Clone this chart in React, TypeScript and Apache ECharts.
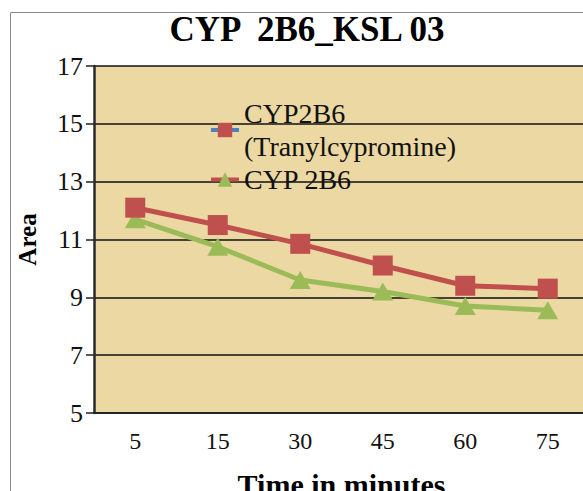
import React, { useEffect, useRef } from "react";
import * as echarts from "echarts";

const titleText = "CYP  2B6_KSL 03";
const categories = ["5", "15", "30", "45", "60", "75"];
const seriesNames = ["CYP2B6\n(Tranylcypromine)", "CYP 2B6"];
const tranylValues = [12.1, 11.5, 10.85, 10.1, 9.4, 9.3];
const cyp2b6Values = [11.7, 10.75, 9.6, 9.2, 8.7, 8.55];
const yMin = 5;
const yMax = 17;
const yStep = 2;

export default function App() {
  const ref = useRef<HTMLDivElement>(null);
  useEffect(() => {
    if (!ref.current) return;
    const chart = echarts.init(ref.current, null, { renderer: "svg" });
    const red = "#C0504D";
    const green = "#9BBB59";
    const blue = "#4F81BD";
    chart.setOption({
      animation: false,
      backgroundColor: "#ffffff",
      textStyle: { fontFamily: "Liberation Serif, Times New Roman, serif" },
      graphic: [
        {
          type: "rect",
          shape: { x: 10.5, y: 12.5, width: 700, height: 600 },
          style: { fill: "none", stroke: "#8a8a8a", lineWidth: 1 },
          silent: true,
          z: -1,
        },
      ],
      title: {
        text: titleText,
        left: 302,
        top: 7,
        textAlign: "center",
        textStyle: {
          fontFamily: "Liberation Serif, serif",
          fontSize: 35,
          fontWeight: "bold",
          color: "#000",
        },
      },
      legend: {
        orient: "vertical",
        left: 204,
        top: 92,
        itemGap: 0,
        itemWidth: 28,
        itemHeight: 18,
        textStyle: {
          fontFamily: "Liberation Serif, serif",
          fontSize: 28,
          lineHeight: 33,
          color: "#111",
        },
        data: [
          { name: seriesNames[0], lineStyle: { color: blue, width: 4 }, itemStyle: { color: red } },
          { name: seriesNames[1], lineStyle: { color: red, width: 4 }, itemStyle: { color: green } },
        ],
      },
      grid: {
        left: 94,
        top: 66,
        width: 495,
        height: 347,
        show: true,
        backgroundColor: "#ECD8A2",
        borderWidth: 0,
        containLabel: false,
        outerBoundsMode: "none",
      },
      xAxis: {
        type: "category",
        data: categories,
        boundaryGap: true,
        name: "Time in minutes",
        nameLocation: "middle",
        nameGap: 56,
        nameTextStyle: {
          fontFamily: "Liberation Serif, serif",
          fontSize: 30,
          fontWeight: "bold",
          color: "#000",
        },
        axisLine: { show: true, lineStyle: { color: "#222", width: 2 } },
        axisTick: { show: false },
        axisLabel: {
          margin: 16,
          fontFamily: "Liberation Serif, serif",
          fontSize: 24,
          color: "#111",
        },
        splitLine: { show: false },
      },
      yAxis: {
        type: "value",
        min: yMin,
        max: yMax,
        interval: yStep,
        name: "Area",
        nameLocation: "middle",
        nameGap: 54,
        nameRotate: 90,
        nameTextStyle: {
          fontFamily: "Liberation Serif, serif",
          fontSize: 25,
          fontWeight: "bold",
          color: "#000",
        },
        axisLine: { show: true, lineStyle: { color: "#2a2a2a", width: 2.5 } },
        axisTick: { show: true, length: 8, lineStyle: { color: "#222", width: 1.5 } },
        axisLabel: {
          margin: 11,
          fontFamily: "Liberation Serif, serif",
          fontSize: 26,
          color: "#111",
        },
        splitLine: { show: true, lineStyle: { color: "#111", width: 1.6 } },
      },
      series: [
        {
          name: seriesNames[0],
          type: "line",
          data: tranylValues,
          symbol: "rect",
          symbolSize: 20,
          lineStyle: { color: red, width: 5 },
          itemStyle: { color: red },
          z: 3,
        },
        {
          name: seriesNames[1],
          type: "line",
          data: cyp2b6Values,
          symbol: "triangle",
          symbolSize: [21, 18],
          lineStyle: { color: green, width: 5 },
          itemStyle: { color: green },
          z: 2,
        },
      ],
    });
    return () => chart.dispose();
  }, []);
  return (
    <div
      ref={ref}
      style={{ position: "fixed", left: 0, top: 0, width: 583, height: 491 }}
    />
  );
}
